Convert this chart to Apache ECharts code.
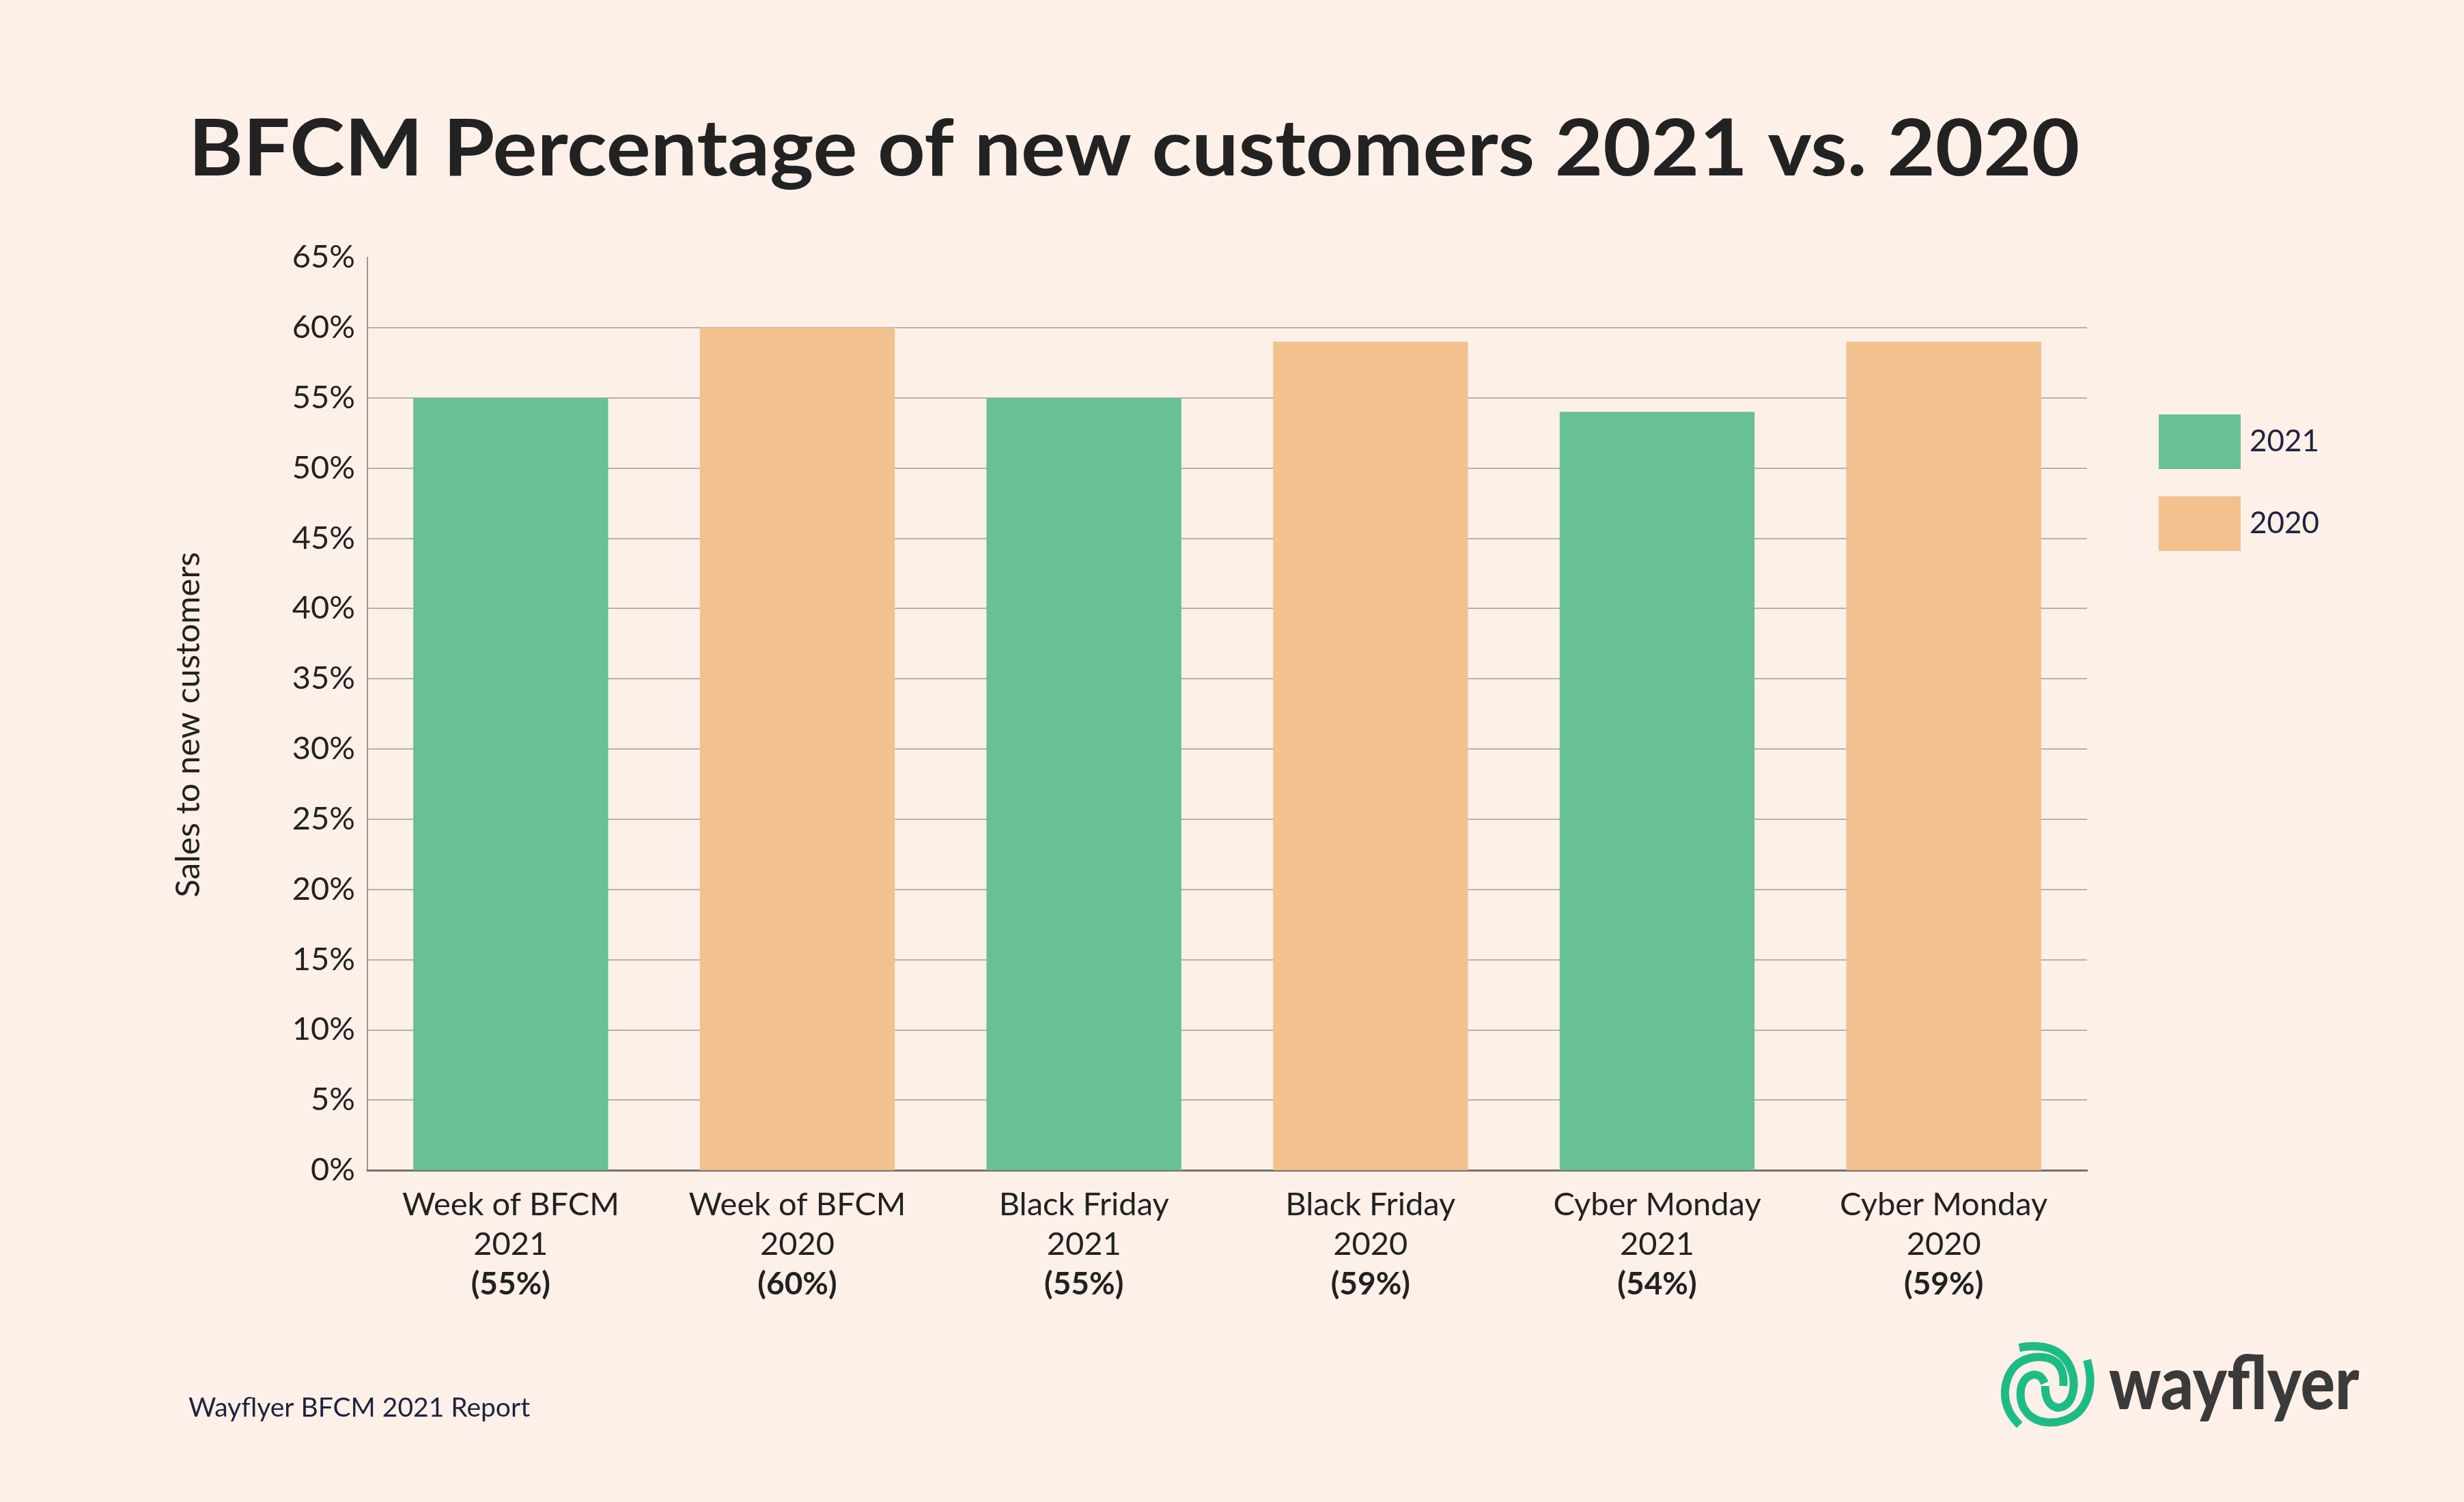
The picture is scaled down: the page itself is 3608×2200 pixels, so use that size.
<!DOCTYPE html>
<html>
<head>
<meta charset="utf-8">
<script src="https://cdn.jsdelivr.net/npm/echarts@6/dist/echarts.min.js"></script>
<style>
html,body{margin:0;padding:0;background:#fdf0e8;}
#chart{width:3608px;height:2200px;}
</style>
</head>
<body>
<div id="chart"></div>
<script>
const categories = ['Week of BFCM', 'Week of BFCM', 'Black Friday', 'Black Friday', 'Cyber Monday', 'Cyber Monday'];
const years = ['2021', '2020', '2021', '2020', '2021', '2020'];
const values = [55, 60, 55, 59, 54, 59];
const seriesNames = ['2021', '2020'];
const yTicks = { min: 0, max: 65, interval: 5 };

const FONT = 'Lato';
const GREEN = '#68c096';
const ORANGE = '#f2c18d';

const labels = categories.map((c, i) => c + '|' + years[i] + '|' + values[i]);
const s2021 = values.map((v, i) => years[i] === '2021' ? v : null);
const s2020 = values.map((v, i) => years[i] === '2020' ? v : null);

const chart = echarts.init(document.getElementById('chart'), null, { renderer: 'canvas' });

// logo strokes (decorative), in a 170px box drawn at 3x
const iconStyle = { fill: null, stroke: '#1ebc85', lineWidth: 36, lineCap: 'butt', lineJoin: 'round' };
const logoStrokes = [
  [[140,72],[215,66],[290,82],[345,125],[375,190],[378,255],[358,310],[318,335],[280,322],[260,288],[254,240]],
  [[438,126],[452,210],[440,290],[400,355],[335,392],[262,400],[200,380],[160,337],[146,282],[156,226],[190,194],[228,196],[252,228]],
  [[142,412],[98,355],[78,285],[88,210],[125,150],[185,118],[255,115],[305,138],[330,182],[334,240]]
];

chart.setOption({
  backgroundColor: '#fdf0e8',
  animation: false,
  grid: { left: 538, top: 377, width: 2518, height: 1337, containLabel: false },
  legend: {
    orient: 'vertical',
    left: 3156,
    top: 602,
    itemWidth: 120,
    itemHeight: 80,
    itemGap: 40,
    icon: 'rect',
    data: seriesNames,
    textStyle: { fontFamily: FONT, fontSize: 44, color: '#1f2340', padding: [0, 0, 0, 8] }
  },
  xAxis: {
    type: 'category',
    data: labels,
    axisTick: { show: false },
    axisLine: { lineStyle: { color: '#76716c', width: 3 } },
    axisLabel: {
      interval: 0,
      margin: 22,
      formatter: function (v) {
        const p = v.split('|');
        return '{a|' + p[0] + '}\n{a|' + p[1] + '}\n{b|(' + p[2] + '%)}';
      },
      rich: {
        a: { fontFamily: FONT, fontSize: 47, color: '#222222', lineHeight: 58 },
        b: { fontFamily: FONT, fontSize: 46, fontWeight: 'bold', color: '#222222', lineHeight: 58 }
      }
    }
  },
  yAxis: {
    type: 'value',
    min: yTicks.min,
    max: yTicks.max,
    interval: yTicks.interval,
    name: 'Sales to new customers',
    nameLocation: 'middle',
    nameGap: 237,
    nameRotate: 90,
    nameTextStyle: { fontFamily: FONT, fontSize: 49, color: '#222222', padding: [0, 32, 0, 0] },
    axisLine: { show: true, lineStyle: { color: '#9c9691', width: 2 } },
    axisTick: { show: false },
    axisLabel: {
      formatter: '{value}%',
      fontFamily: FONT, fontSize: 47, color: '#222222', margin: 18
    },
    splitLine: { show: true, showMinLine: false, showMaxLine: false, lineStyle: { color: '#b7b1ac', width: 2 } }
  },
  series: [
    { name: seriesNames[0], type: 'bar', data: s2021, barWidth: '68%', barGap: '-100%', itemStyle: { color: GREEN } },
    { name: seriesNames[1], type: 'bar', data: s2020, barWidth: '68%', barGap: '-100%', itemStyle: { color: ORANGE } }
  ],
  graphic: [
    {
      type: 'text', x: 276, y: 163, scaleX: 1.067,
      style: { x: 0, y: 0, verticalAlign: 'top', text: 'BFCM Percentage of new customers 2021 vs. 2020', fontFamily: FONT, fontWeight: 'bold', fontSize: 114, fill: '#222222' }
    },
    {
      type: 'text', x: 276, y: 2043,
      style: { x: 0, y: 0, verticalAlign: 'top', text: 'Wayflyer BFCM 2021 Report', fontFamily: FONT, fontSize: 39, fill: '#1f2340' }
    },
    {
      type: 'text', x: 3088, y: 1975, scaleX: 0.875,
      style: { x: 0, y: 0, verticalAlign: 'top', text: 'wayflyer', fontFamily: FONT, fontWeight: 900, fontSize: 108, fill: '#3a3a3a' }
    },
    {
      type: 'group', x: 2910, y: 1950, scaleX: 1 / 3, scaleY: 1 / 3,
      children: logoStrokes.map(pts => ({
        type: 'polyline',
        shape: { points: pts, smooth: 0.4 },
        style: iconStyle
      }))
    }
  ]
});
</script>
</body>
</html>
